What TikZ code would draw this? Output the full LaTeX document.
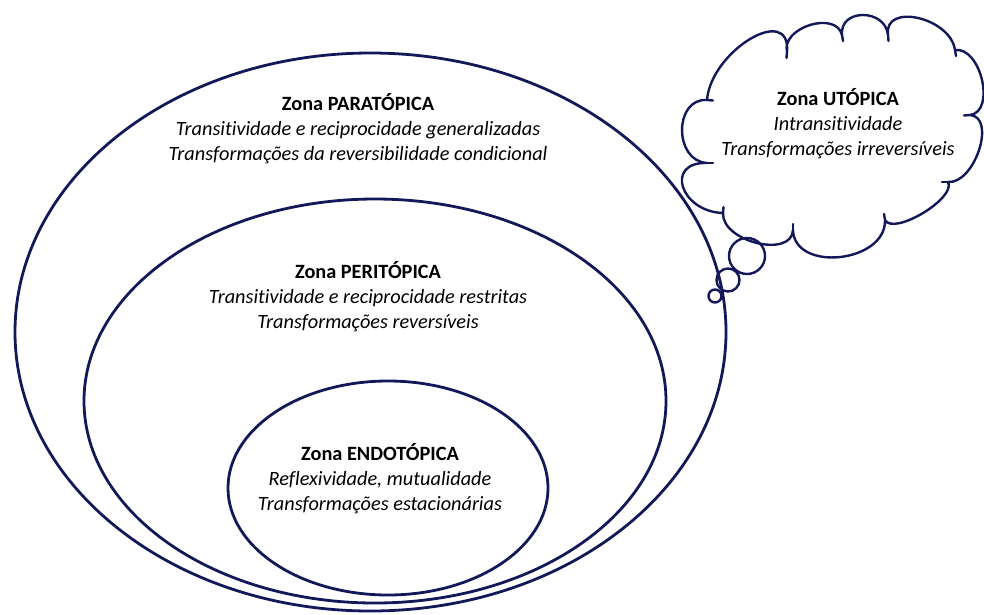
\documentclass[tikz,border=0pt]{standalone}
\usepackage{fontspec}
\setmainfont{Carlito}[Ligatures=NoCommon]
\definecolor{navy}{RGB}{18,24,88}
\tikzset{
  zoneline/.style={draw=navy, line width=2.8pt},
  cloudline/.style={draw=navy, line width=2.4pt, line join=round, line cap=round},
  zonetext/.style={align=center, font=\fontsize{20.3}{25}\selectfont, inner sep=0pt, text=black}
}
\begin{document}
\begin{tikzpicture}[x=1pt, y=-1pt]
\useasboundingbox (0,0) rectangle (984,614);
% ellipses
\draw[zoneline] (370.5,332) ellipse [x radius=355.5pt, y radius=279pt];
\draw[zoneline] (375,401) ellipse [x radius=291pt, y radius=202pt];
\draw[zoneline] (388,488) ellipse [x radius=160pt, y radius=107pt];
% cloud
\draw[cloudline] (707,100)
  .. controls (711,50.7) and (791,2.7) .. (787,52)
  .. controls (781,27.3) and (836,10.3) .. (842,35)
  .. controls (839.3,8.3) and (885.3,8.3) .. (888,35)
  .. controls (883.3,2.3) and (950.3,17.3) .. (955,50)
  .. controls (981,46.7) and (996,111.7) .. (970,115)
  .. controls (996.7,117) and (974.7,184) .. (948,182)
  .. controls (956.7,198) and (893.7,236) .. (885,220)
  .. controls (886.3,262.7) and (794.3,272.7) .. (793,230)
  .. controls (791.7,258.7) and (721.7,241.7) .. (723,213)
  .. controls (680.3,211.7) and (664.3,161.7) .. (707,163)
  .. controls (673.7,161) and (673.7,98) .. (707,100) -- cycle;
% small inward tails at the cusps
\draw[cloudline] (787,52) -- (786.5,58);
\draw[cloudline] (842,35) -- (843,41);
\draw[cloudline] (888,35) -- (888.5,41);
\draw[cloudline] (955,50) -- (956,56);
\draw[cloudline] (970,115) -- (964,115.5);
\draw[cloudline] (948,182) -- (942,182);
\draw[cloudline] (885,220) -- (884,214);
\draw[cloudline] (793,230) -- (793,224);
\draw[cloudline] (723,213) -- (723.5,207);
\draw[cloudline] (707,163) -- (713,163);
\draw[cloudline] (707,100) -- (713,100.5);
% thought bubbles
\draw[cloudline] (747,256) circle [radius=18pt];
\draw[cloudline] (728,280) circle [radius=11.5pt];
\draw[cloudline] (715,296) circle [radius=6.5pt];
% texts
\node[zonetext] (para) at (358,129) {\textbf{Zona PARATÓPICA}\\ \textit{Transitividade e reciprocidade generalizadas}\\ \textit{Transformações da reversibilidade condicional}};
\node[zonetext] (peri) at (368,297) {\textbf{Zona PERITÓPICA}\\ \textit{Transitividade e reciprocidade restritas}\\ \textit{Transformações reversíveis}};
\node[zonetext] (endo) at (380,479) {\textbf{Zona ENDOTÓPICA}\\ \textit{Reflexividade, mutualidade}\\ \textit{Transformações estacionárias}};
\node[zonetext] (uto) at (838,124) {\textbf{Zona UTÓPICA}\\ \textit{Intransitividade}\\ \textit{Transformações irreversíveis}};
\end{tikzpicture}
\end{document}
